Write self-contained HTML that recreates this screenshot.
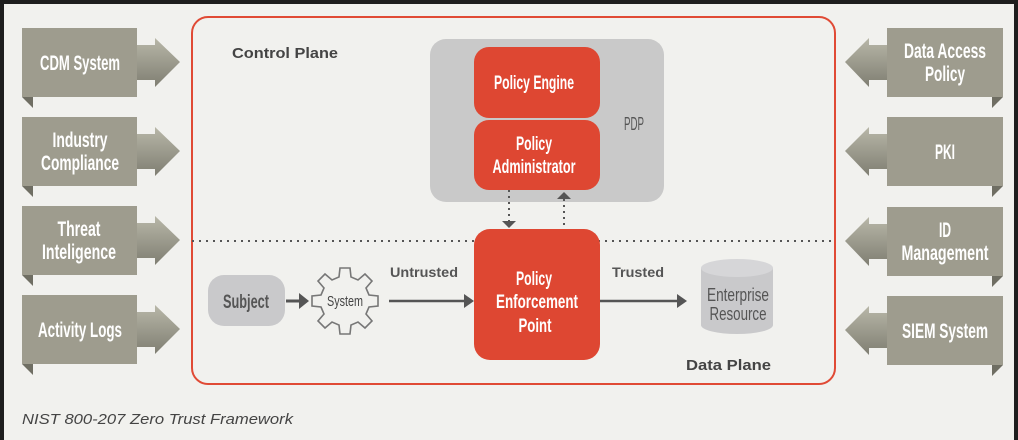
<!DOCTYPE html>
<html><head><meta charset="utf-8"><style>
html,body{margin:0;padding:0;background:#f1f1ee;}
svg{display:block}
.c{font-family:"Liberation Sans",sans-serif;font-weight:bold;}
.b{font-family:"Liberation Sans",sans-serif;font-weight:bold;}
</style></head><body>
<svg width="1018" height="440" viewBox="0 0 1018 440">
<defs>
<linearGradient id="ga" x1="0" y1="0" x2="0" y2="1">
<stop offset="0" stop-color="#b8b7a8"/><stop offset="1" stop-color="#7f7e72"/></linearGradient>
<g id="la">
<rect x="22" y="0" width="115" height="69" fill="#9e9c8e"/>
<polygon points="22,69 33,69 33,80" fill="#6f6e63"/>
<polygon points="137,17 155,17 155,10 180,34 155,59 155,52 137,52" fill="url(#ga)"/>
</g>
<g id="ra">
<rect x="887" y="0" width="116" height="69" fill="#9e9c8e"/>
<polygon points="1003,69 992,69 992,80" fill="#6f6e63"/>
<polygon points="887,17 869,17 869,10 845,34 869,59 869,52 887,52" fill="url(#ga)"/>
</g>
</defs>
<rect x="0" y="0" width="1018" height="4" fill="#1e1e1e"/>
<rect x="0" y="0" width="4" height="440" fill="#1e1e1e"/>
<rect x="1014" y="0" width="4" height="440" fill="#1e1e1e"/>

<use href="#la" y="28"/><use href="#la" y="117"/><use href="#la" y="206"/><use href="#la" y="295"/>
<use href="#ra" y="28"/><use href="#ra" y="117"/><use href="#ra" y="207"/><use href="#ra" y="296"/>
<g class="c" fill="#fff" font-size="21" text-anchor="middle">
<text x="80" y="70" textLength="80" lengthAdjust="spacingAndGlyphs">CDM System</text>
<text x="80" y="147" textLength="55" lengthAdjust="spacingAndGlyphs">Industry</text><text x="80" y="170" textLength="78" lengthAdjust="spacingAndGlyphs">Compliance</text>
<text x="79" y="236" textLength="43" lengthAdjust="spacingAndGlyphs">Threat</text><text x="79" y="259" textLength="74" lengthAdjust="spacingAndGlyphs">Inteligence</text>
<text x="80" y="337" textLength="84" lengthAdjust="spacingAndGlyphs">Activity Logs</text>
<text x="945" y="58" textLength="82" lengthAdjust="spacingAndGlyphs">Data Access</text><text x="945" y="81" textLength="40" lengthAdjust="spacingAndGlyphs">Policy</text>
<text x="945" y="159" textLength="20" lengthAdjust="spacingAndGlyphs">PKI</text>
<text x="945" y="237" textLength="12" lengthAdjust="spacingAndGlyphs">ID</text><text x="945" y="260" textLength="87" lengthAdjust="spacingAndGlyphs">Management</text>
<text x="945" y="338" textLength="86" lengthAdjust="spacingAndGlyphs">SIEM System</text>
</g>

<rect x="192" y="17" width="643" height="367" rx="16" fill="none" stroke="#e04a35" stroke-width="2"/>
<text x="232" y="58" class="b" font-size="15" fill="#444" textLength="106" lengthAdjust="spacingAndGlyphs">Control Plane</text>
<rect x="430" y="39" width="234" height="163" rx="16" fill="#c9c9c9"/>
<text x="624" y="130" font-family="Liberation Sans,sans-serif" font-size="18" fill="#555" textLength="20" lengthAdjust="spacingAndGlyphs">PDP</text>
<rect x="474" y="47" width="126" height="71" rx="15" fill="#de4732"/>
<rect x="474" y="120" width="126" height="70" rx="15" fill="#de4732"/>
<g class="c" fill="#fff" font-size="19" text-anchor="middle">
<text x="534" y="89" textLength="80" lengthAdjust="spacingAndGlyphs">Policy Engine</text>
<text x="534" y="150" textLength="36" lengthAdjust="spacingAndGlyphs">Policy</text><text x="534" y="173" textLength="83" lengthAdjust="spacingAndGlyphs">Administrator</text>
</g>
<line x1="192" y1="241" x2="835" y2="241" stroke="#555" stroke-width="2" stroke-dasharray="2,5"/>
<line x1="509" y1="190" x2="509" y2="221" stroke="#555" stroke-width="2" stroke-dasharray="2,4"/>
<polygon points="502,221 516,221 509,228" fill="#555"/>
<line x1="564" y1="199" x2="564" y2="230" stroke="#555" stroke-width="2" stroke-dasharray="2,4"/>
<polygon points="557,199 571,199 564,192" fill="#555"/>
<rect x="474" y="229" width="126" height="131" rx="16" fill="#de4732"/>
<g class="c" fill="#fff" font-size="19" text-anchor="middle">
<text x="534" y="285" textLength="36" lengthAdjust="spacingAndGlyphs">Policy</text><text x="537" y="308" textLength="82" lengthAdjust="spacingAndGlyphs">Enforcement</text><text x="535" y="332" textLength="33" lengthAdjust="spacingAndGlyphs">Point</text>
</g>
<rect x="208" y="275" width="77" height="51" rx="16" fill="#c9c9cb"/>
<text x="246" y="308" class="c" font-size="19" fill="#555" text-anchor="middle" textLength="46" lengthAdjust="spacingAndGlyphs">Subject</text>
<line x1="286" y1="301" x2="302" y2="301" stroke="#555" stroke-width="3"/>
<polygon points="299,293 309,301 299,309" fill="#555"/>
<g transform="translate(345,301)" fill="none" stroke="#777" stroke-width="1.6">
<path d="M-5,-33 L5,-33 L6,-24 L13,-21 L20,-27 L27,-20 L21,-13 L24,-6 L33,-5 L33,5 L24,6 L21,13 L27,20 L20,27 L13,21 L6,24 L5,33 L-5,33 L-6,24 L-13,21 L-20,27 L-27,20 L-21,13 L-24,6 L-33,5 L-33,-5 L-24,-6 L-21,-13 L-27,-20 L-20,-27 L-13,-21 L-6,-24 Z"/>
</g>
<text x="345" y="306" font-family="Liberation Sans,sans-serif" font-size="15" fill="#444" text-anchor="middle" textLength="36" lengthAdjust="spacingAndGlyphs">System</text>
<text x="390" y="277" class="b" font-size="14" fill="#555" textLength="68" lengthAdjust="spacingAndGlyphs">Untrusted</text>
<line x1="389" y1="301" x2="466" y2="301" stroke="#555" stroke-width="2.5"/>
<polygon points="464,294 474,301 464,308" fill="#555"/>
<text x="612" y="277" class="b" font-size="14" fill="#555" textLength="52" lengthAdjust="spacingAndGlyphs">Trusted</text>
<line x1="600" y1="301" x2="678" y2="301" stroke="#555" stroke-width="2.5"/>
<polygon points="677,294 687,301 677,308" fill="#555"/>
<path d="M701,268 L701,325 A36,9 0 0 0 773,325 L773,268 Z" fill="#c9c9cb"/>
<ellipse cx="737" cy="268" rx="36" ry="9" fill="#d6d6d8"/>
<g font-family="Liberation Sans,sans-serif" fill="#555" font-size="18" text-anchor="middle">
<text x="738" y="301" textLength="62" lengthAdjust="spacingAndGlyphs">Enterprise</text><text x="738" y="320" textLength="57" lengthAdjust="spacingAndGlyphs">Resource</text>
</g>
<text x="686" y="370" class="b" font-size="15" fill="#444" textLength="85" lengthAdjust="spacingAndGlyphs">Data Plane</text>
<text x="22" y="424" font-family="Liberation Sans,sans-serif" font-style="italic" font-size="15" fill="#444" textLength="271" lengthAdjust="spacingAndGlyphs">NIST 800-207 Zero Trust Framework</text>
</svg>
</body></html>
